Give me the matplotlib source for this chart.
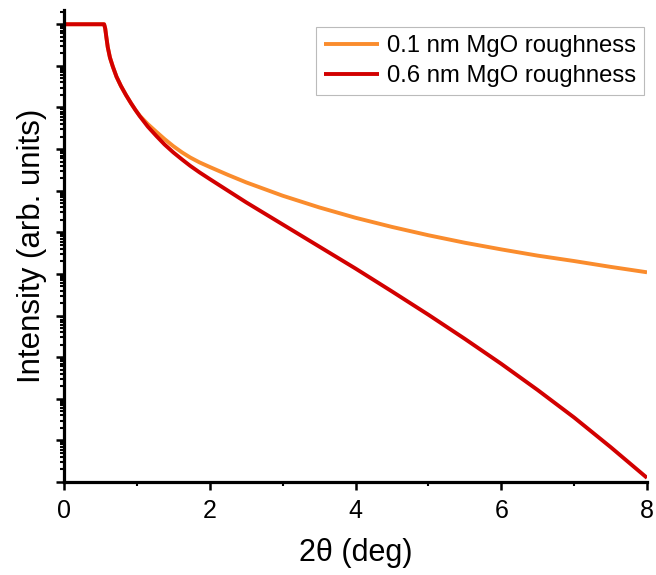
import numpy as np
import matplotlib
matplotlib.use("Agg")
import matplotlib.pyplot as plt
from matplotlib.ticker import LogLocator, MultipleLocator, NullFormatter

plt.rcParams['font.family'] = ['Liberation Sans', 'DejaVu Sans']

# Scattering angle 2-theta (deg)
two_theta = [0.0, 0.3, 0.55, 0.565, 0.58, 0.60, 0.63, 0.67, 0.72, 0.78, 0.85,
             0.92, 0.98, 1.04, 1.15, 1.27, 1.38, 1.50, 1.62, 1.73, 1.86,
             2.0, 2.25, 2.5, 3.0, 3.5, 4.0, 4.5, 5.0, 5.5, 6.0, 6.5, 7.0,
             7.5, 8.0]

# log10 of reflected intensity, 0.1 nm MgO roughness
log_i_rough01 = [0.0, 0.0, 0.0, -0.10, -0.30, -0.55, -0.80, -1.02, -1.26, -1.48, -1.70,
                 -1.90, -2.06, -2.20, -2.40, -2.59, -2.76, -2.93, -3.08, -3.20, -3.32,
                 -3.43, -3.62, -3.80, -4.12, -4.40, -4.65, -4.87, -5.07, -5.25, -5.41,
                 -5.56, -5.69, -5.83, -5.96]

# log10 of reflected intensity, 0.6 nm MgO roughness
log_i_rough06 = [0.0, 0.0, 0.0, -0.10, -0.30, -0.55, -0.80, -1.02, -1.26, -1.48, -1.70,
                 -1.90, -2.06, -2.21, -2.46, -2.69, -2.89, -3.08, -3.25, -3.40, -3.56,
                 -3.72, -4.00, -4.28, -4.81, -5.34, -5.87, -6.42, -6.98, -7.56, -8.16,
                 -8.79, -9.45, -10.16, -10.90]

labels = ["0.1 nm MgO roughness", "0.6 nm MgO roughness"]
colors = ["#FA8C2D", "#D20000"]

fig = plt.figure(figsize=(6.56, 5.75), dpi=100)
ax = fig.add_axes([0.0976, 0.1617, 0.8887, 0.8209])

x = np.array(two_theta)
for logs, lab, col in zip([log_i_rough01, log_i_rough06], labels, colors):
    ax.plot(x, 10.0 ** np.array(logs), color=col, lw=2.8, label=lab,
            solid_capstyle='butt', solid_joinstyle='round')

ax.set_yscale('log')
ax.set_xlim(0, 8)
ax.set_ylim(1e-11, 2.2)

ax.xaxis.set_major_locator(MultipleLocator(2))
ax.xaxis.set_minor_locator(MultipleLocator(1))
ax.yaxis.set_major_locator(LogLocator(base=10, numticks=20))
ax.yaxis.set_minor_locator(LogLocator(base=10, subs=np.arange(2, 10), numticks=20))
ax.yaxis.set_major_formatter(NullFormatter())
ax.yaxis.set_minor_formatter(NullFormatter())

for side in ['top', 'right']:
    ax.spines[side].set_visible(False)
for side in ['left', 'bottom']:
    ax.spines[side].set_linewidth(2.3)

ax.tick_params(which='major', direction='out', length=6, width=1.8, labelsize=18, pad=6)
ax.tick_params(which='minor', direction='out', length=3, width=1.5)

ax.set_xlabel("2θ (deg)", fontsize=22, labelpad=11)
ax.set_ylabel("Intensity (arb. units)", fontsize=22.5, labelpad=0)

leg = ax.legend(loc='upper right', bbox_to_anchor=(644 / 656, 1 - 27 / 575),
                bbox_transform=fig.transFigure, fontsize=17.2,
                frameon=True, fancybox=False, handlelength=2.3, handletextpad=0.3,
                borderpad=0.35, labelspacing=0.32, borderaxespad=0.0)
leg.get_frame().set_edgecolor('#AAAAAA')
leg.get_frame().set_linewidth(0.8)

fig.savefig("out.png", dpi=100)
